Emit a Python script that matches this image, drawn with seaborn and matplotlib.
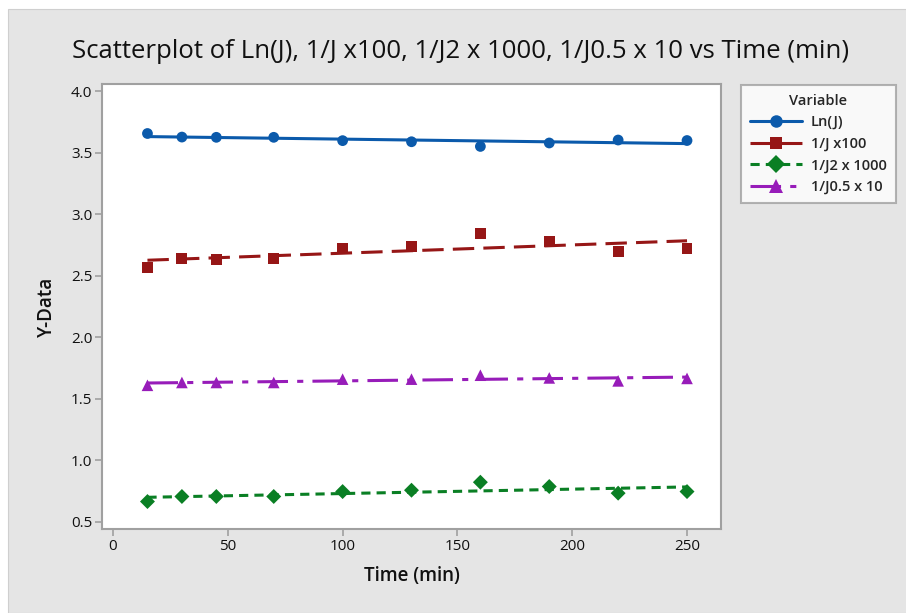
import numpy as np
import pandas as pd
import seaborn as sns
import matplotlib
matplotlib.use("Agg")
import matplotlib.pyplot as plt
from matplotlib.lines import Line2D
from matplotlib.patches import Rectangle

time_min = [15, 30, 45, 70, 100, 130, 160, 190, 220, 250]
ln_j = [3.655, 3.626, 3.624, 3.624, 3.597, 3.588, 3.550, 3.578, 3.602, 3.598]
inv_j_x100 = [2.564, 2.640, 2.629, 2.640, 2.721, 2.739, 2.845, 2.780, 2.694, 2.718]
inv_j2_x1000 = [0.666, 0.707, 0.707, 0.707, 0.747, 0.758, 0.823, 0.788, 0.734, 0.747]
inv_j05_x10 = [1.610, 1.633, 1.633, 1.633, 1.660, 1.660, 1.692, 1.670, 1.646, 1.666]

series_names = ["Ln(J)", "1/J x100", "1/J2 x 1000", "1/J0.5 x 10"]
series_values = [ln_j, inv_j_x100, inv_j2_x1000, inv_j05_x10]
colors = ["#0B5AAB", "#961616", "#0A7F24", "#971CB9"]
markers = ["o", "s", "D", "^"]
msizes = [60, 62, 58, 70]
linestyles = ["-", (0, (7, 3)), (0, (3, 2)), (0, (10, 3, 2, 3))]

sns.set_style("white")
plt.rcParams["font.family"] = ["Open Sans", "DejaVu Sans"]

fig = plt.figure(figsize=(9.06, 6.13), dpi=100)
fig.patch.set_facecolor("white")
fig.patches.append(Rectangle((8 / 906, 0), 1, 1 - 9 / 613, transform=fig.transFigure,
                             facecolor="#E5E5E5", edgecolor="#CFCFCF", lw=0.8, zorder=-10))

ax = fig.add_axes([102 / 906, 1 - 529 / 613, (721 - 102) / 906, (529 - 84) / 613])
ax.set_facecolor("white")

df = pd.DataFrame({"Time (min)": time_min})
for name, vals in zip(series_names, series_values):
    df[name] = vals

for name, c, m, s, ls in zip(series_names, colors, markers, msizes, linestyles):
    sns.regplot(data=df, x="Time (min)", y=name, ax=ax, ci=None, color=c, marker=m,
                scatter_kws=dict(s=s, color=c, edgecolor="none", alpha=1, zorder=3),
                line_kws=dict(color=c, lw=2.2, linestyle=ls, zorder=2))

ax.set_xlim(-4.8, 264.8)
ax.set_ylim(0.443, 4.057)
ax.set_xticks([0, 50, 100, 150, 200, 250])
ax.set_yticks([0.5, 1.0, 1.5, 2.0, 2.5, 3.0, 3.5, 4.0])
ax.set_yticklabels(["0.5", "1.0", "1.5", "2.0", "2.5", "3.0", "3.5", "4.0"])
for sp in ax.spines.values():
    sp.set_color("#A0A0A0")
    sp.set_linewidth(1.5)
ax.tick_params(axis="both", which="both", direction="out", length=5, width=1.2,
               color="#A0A0A0", labelsize=11, labelcolor="#111111", pad=2,
               left=True, bottom=True)
ax.set_xlabel("Time (min)", fontsize=13.5, fontweight="semibold", color="#111111", labelpad=9)
ax.set_ylabel("Y-Data", fontsize=13.5, fontweight="semibold", color="#111111", labelpad=10)

fig.text(461 / 906, 1 - 51 / 613, "Scatterplot of Ln(J), 1/J x100, 1/J2 x 1000, 1/J0.5 x 10 vs Time (min)",
         ha="center", va="center", fontsize=18.5, fontweight="medium", color="#111111")

handles = [Line2D([0], [0], color=c, lw=2.2, linestyle=ls, marker=m,
                  markersize=9 if m != "^" else 10, markeredgewidth=0)
           for c, m, ls in zip(colors, markers, linestyles)]
leg = fig.legend(handles, series_names, title="Variable", loc="upper left",
                 bbox_to_anchor=(741 / 906, 1 - 85 / 613), borderaxespad=0, frameon=True,
                 fancybox=False, fontsize=10.5, title_fontsize=10.5, handlelength=3.6,
                 borderpad=0.6, labelspacing=0.5, handletextpad=0.6, alignment="center",
                 prop=dict(weight="semibold", size=10.5))
leg.get_frame().set_edgecolor("#A0A0A0")
leg.get_frame().set_linewidth(1.5)
leg.get_title().set_fontweight("semibold")

fig.savefig("out.png", dpi=100, facecolor=fig.get_facecolor())
